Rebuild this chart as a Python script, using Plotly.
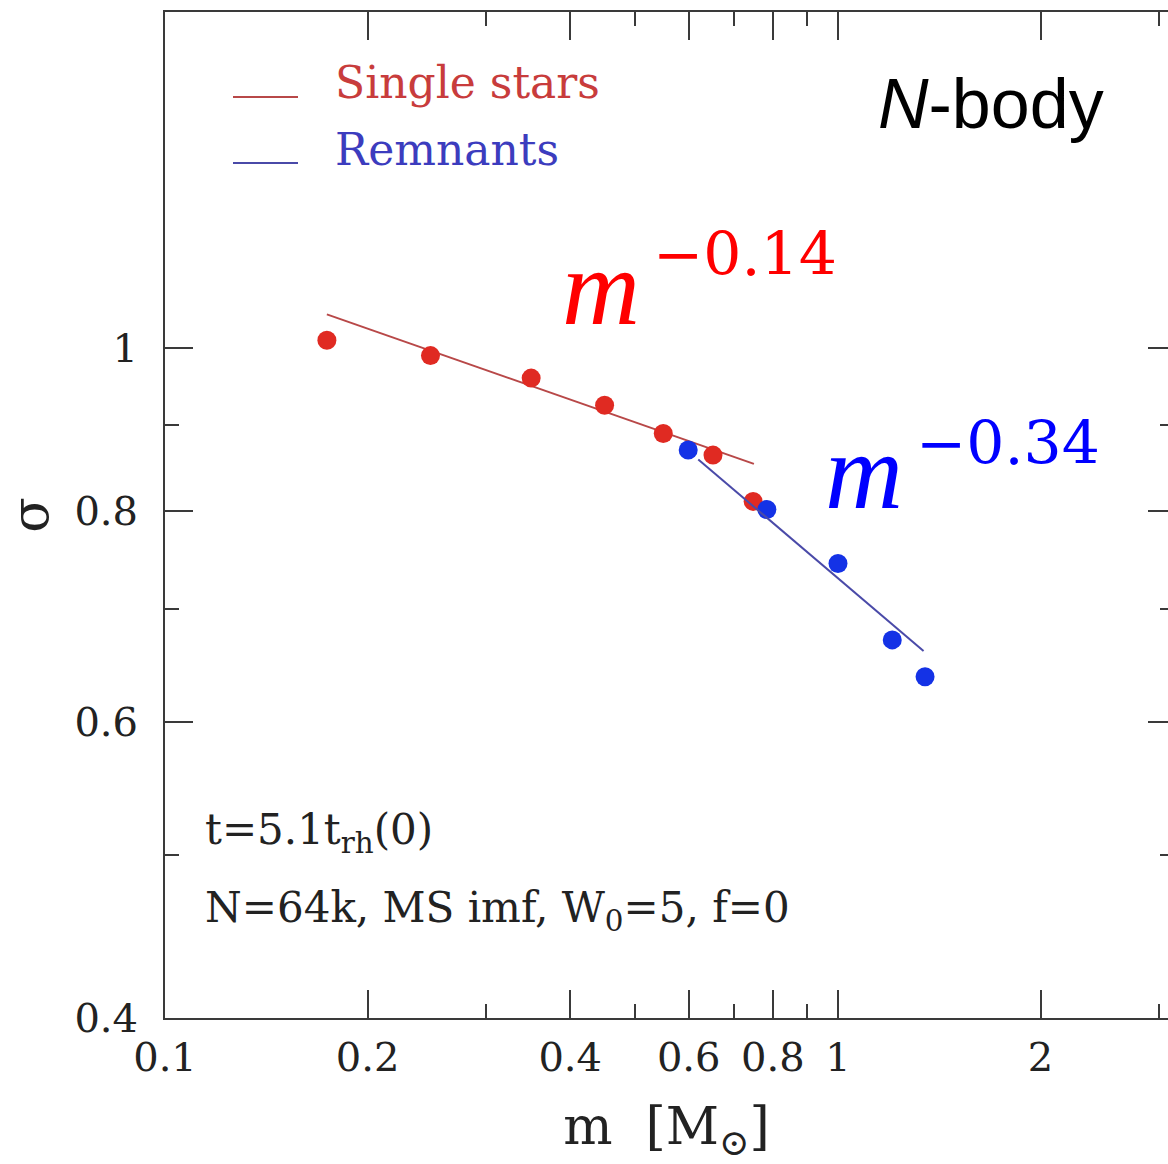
import math
import plotly.graph_objects as go

# Mean 1D velocity dispersion in each mass bin
single_mass = [0.174, 0.248, 0.350, 0.450, 0.550, 0.652, 0.748]
single_sigma = [1.011, 0.990, 0.960, 0.925, 0.890, 0.864, 0.811]
remnant_mass = [0.599, 0.784, 1.000, 1.204, 1.347]
remnant_sigma = [0.870, 0.802, 0.745, 0.671, 0.638]

# Power-law fits: sigma = norm * m**slope over the given mass span
fit_slope = [-0.14, -0.34]
fit_norm = [0.820, 0.730]
fit_mass_span = [[0.174, 0.750], [0.620, 1.340]]

# Axis ticks
x_major = [0.1, 0.2, 0.4, 0.6, 0.8, 1, 2]
x_major_text = ["0.1", "0.2", "0.4", "0.6", "0.8", "1", "2"]
x_minor = [0.3, 0.5, 0.7, 0.9, 3]
y_major = [0.4, 0.6, 0.8, 1]
y_major_text = ["0.4", "0.6", "0.8", "1"]
y_minor = [0.5, 0.7, 0.9]

W, H = 1168, 1164
ML, MR, MT, MB = 165, 0, 12, 146
PW, PH = W - ML - MR, H - MT - MB
X_RANGE = [-1.0, -1.0 + PW / 673.0]
Y_RANGE = [math.log10(0.4), math.log10(0.4) + PH / 1683.0]

AX = "#3a3a3a"
SERIF = "DejaVu Serif"
RED_PT, BLUE_PT = "#e02a22", "#1432e6"
RED_LN, BLUE_LN = "#b84848", "#4a4aa8"


def px(x):
    return (x - ML) / PW


def py(y):
    return (MT + PH - y) / PH


def fit_line(i):
    ms = fit_mass_span[i]
    return ms, [fit_norm[i] * m ** fit_slope[i] for m in ms]


fig = go.Figure()

fx, fy = fit_line(0)
fig.add_trace(go.Scatter(x=fx, y=fy, mode="lines", line=dict(color=RED_LN, width=2),
                         showlegend=False, hoverinfo="skip"))
fx, fy = fit_line(1)
fig.add_trace(go.Scatter(x=fx, y=fy, mode="lines", line=dict(color=BLUE_LN, width=2),
                         showlegend=False, hoverinfo="skip", yaxis="y2"))
fig.add_trace(go.Scatter(x=single_mass, y=single_sigma, mode="markers", name="Single stars",
                         marker=dict(color=RED_PT, size=19, line=dict(width=0)),
                         showlegend=False))
fig.add_trace(go.Scatter(x=remnant_mass, y=remnant_sigma, mode="markers", name="Remnants",
                         marker=dict(color=BLUE_PT, size=19, line=dict(width=0)),
                         showlegend=False))

tick_font = dict(family=SERIF, size=40, color="#222222")

fig.update_layout(
    width=W, height=H,
    margin=dict(l=ML, r=MR, t=MT, b=MB, pad=0),
    paper_bgcolor="white", plot_bgcolor="white",
    showlegend=False,
    xaxis=dict(
        type="log", range=X_RANGE, tickmode="array", tickvals=x_major, ticktext=x_major_text,
        ticks="inside", ticklen=28, tickwidth=2, tickcolor=AX,
        showline=True, linewidth=2, linecolor=AX, mirror="ticks",
        showgrid=False, zeroline=False, tickfont=tick_font, ticklabelstandoff=3,
        minor=dict(tickmode="array", tickvals=x_minor, ticks="inside", ticklen=14,
                   tickwidth=2, tickcolor=AX, showgrid=False),
        title=dict(text="m  [M<sub>⊙</sub>]", font=dict(family=SERIF, size=52, color="#222222"),
                   standoff=33),
    ),
    yaxis=dict(
        type="log", range=Y_RANGE, tickmode="array", tickvals=y_major, ticktext=y_major_text,
        ticks="inside", ticklen=28, tickwidth=2, tickcolor=AX,
        showline=True, linewidth=2, linecolor=AX, mirror=False,
        showgrid=False, zeroline=False, tickfont=tick_font, ticklabelstandoff=17,
        minor=dict(tickmode="array", tickvals=y_minor, ticks="inside", ticklen=14,
                   tickwidth=2, tickcolor=AX, showgrid=False),
        title=dict(text="σ", font=dict(family=SERIF, size=52, color="#222222"), standoff=30),
    ),
    yaxis2=dict(
        type="log", range=Y_RANGE, overlaying="y", side="right", anchor="x",
        tickmode="array", tickvals=y_major, ticks="inside", ticklen=20, tickwidth=2,
        tickcolor=AX, showticklabels=False, showline=False, showgrid=False, zeroline=False,
        minor=dict(tickmode="array", tickvals=y_minor, ticks="inside", ticklen=8,
                   tickwidth=2, tickcolor=AX, showgrid=False),
    ),
)

# Legend samples
fig.add_shape(type="line", xref="paper", yref="paper", x0=px(233), x1=px(298),
              y0=py(97), y1=py(97), line=dict(color=RED_LN, width=2))
fig.add_shape(type="line", xref="paper", yref="paper", x0=px(233), x1=px(298),
              y0=py(163), y1=py(163), line=dict(color=BLUE_LN, width=2))


def note(text, x, y, size, color, family=SERIF, xanchor="left"):
    fig.add_annotation(text=text, xref="paper", yref="paper", x=px(x), y=py(y),
                       xanchor=xanchor, yanchor="middle", showarrow=False,
                       font=dict(family=family, size=size, color=color))


note("Single stars", 333, 82, 44, "#c83c3c")
note("Remnants", 333, 150, 44, "#3c3cbe")
note("<i>N</i>-body", 1106, 104, 70, "#000000", family="Liberation Sans", xanchor="right")

# Slope labels
note("<i>m</i>", 560, 288, 108, "#ff0000", family="Liberation Serif")
note("−0.14", 651, 254, 60, "#ff0000")
note("<i>m</i>", 823, 472, 108, "#0000ff", family="Liberation Serif")
note("−0.34", 914, 443, 60, "#0000ff")

# Run parameters
note("t=5.1t<sub>rh</sub>(0)", 203, 832, 42, "#222222")
note("N=64k, MS imf, W<sub>0</sub>=5, f=0", 203, 910, 42, "#222222")

fig.write_html("out.html")
